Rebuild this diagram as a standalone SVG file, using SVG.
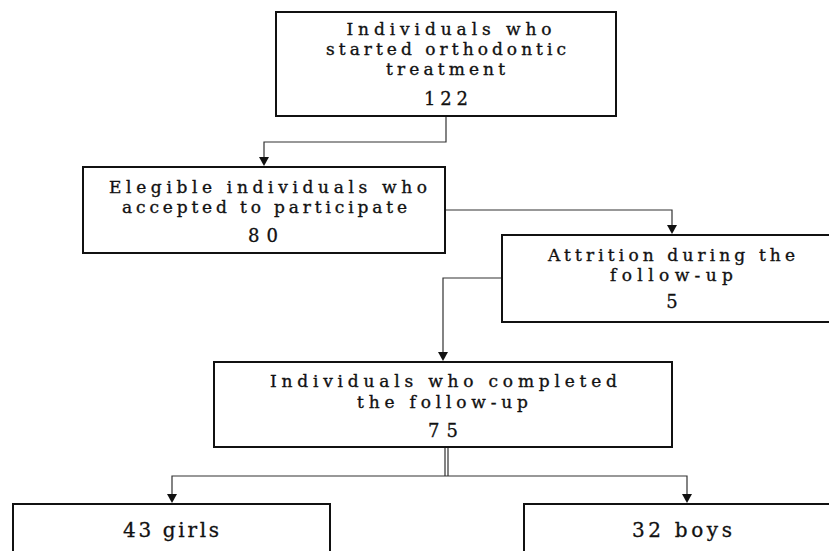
<svg xmlns="http://www.w3.org/2000/svg" width="829" height="551" viewBox="0 0 829 551">
<style>
.box{fill:#fff;stroke:#111;stroke-width:2}
.t{font-family:"DejaVu Serif",serif;font-size:17px;fill:#111;stroke:#111;stroke-width:0.35;text-anchor:middle}
.n{font-family:"DejaVu Serif",serif;font-size:18px;fill:#111;stroke:#111;stroke-width:0.3;text-anchor:middle}
.b{font-family:"DejaVu Serif",serif;font-size:20px;fill:#111;stroke:#111;stroke-width:0.3;text-anchor:middle}
.c{fill:none;stroke:#333;stroke-width:1.2}
</style>
<rect width="829" height="551" fill="#fff"/>
<g id="connectors">
<path class="c" d="M446,117 V142 H264 V158"/>
<polygon points="259,157 269,157 264,166" fill="#111"/>
<path class="c" d="M446,210 H672 V226"/>
<polygon points="667,225 677,225 672,234" fill="#111"/>
<path class="c" d="M502,278 H443 V353"/>
<polygon points="438,352 448,352 443,361" fill="#111"/>
<path class="c" d="M445,448 V476 M448,448 V476"/>
<path class="c" d="M172,495 V476 H687 V495"/>
<polygon points="167,494 177,494 172,503" fill="#111"/>
<polygon points="682,494 692,494 687,503" fill="#111"/>
</g>
<g id="n1">
<rect class="box" x="276" y="12" width="340" height="104"/>
<text class="t" x="449" y="35" textLength="205" lengthAdjust="spacing">Individuals who</text>
<text class="t" x="446" y="55" textLength="240" lengthAdjust="spacing">started orthodontic</text>
<text class="t" x="445.5" y="75" textLength="119" lengthAdjust="spacing">treatment</text>
<text class="n" x="446" y="105" textLength="44" lengthAdjust="spacing">122</text>
</g>
<g id="n2">
<rect class="box" x="83" y="167" width="362" height="86"/>
<text class="t" x="268" y="193" textLength="318" lengthAdjust="spacing">Elegible individuals who</text>
<text class="t" x="264.5" y="213" textLength="285" lengthAdjust="spacing">accepted to participate</text>
<text class="n" x="263" y="242" textLength="30" lengthAdjust="spacing">80</text>
</g>
<g id="n3">
<rect class="box" x="502" y="235" width="340" height="87"/>
<text class="t" x="671.5" y="261" textLength="247" lengthAdjust="spacing">Attrition during the</text>
<text class="t" x="671.5" y="281" textLength="123" lengthAdjust="spacing">follow-up</text>
<text class="n" x="672" y="308">5</text>
</g>
<g id="n4">
<rect class="box" x="214" y="362" width="458" height="85"/>
<text class="t" x="443.5" y="387" textLength="347" lengthAdjust="spacing">Individuals who completed</text>
<text class="t" x="442.5" y="408" textLength="171" lengthAdjust="spacing">the follow-up</text>
<text class="n" x="443" y="437" textLength="30" lengthAdjust="spacing">75</text>
</g>
<g id="n5">
<rect class="box" x="13" y="504" width="317" height="60"/>
<text class="b" x="171" y="537" textLength="96" lengthAdjust="spacing">43 girls</text>
</g>
<g id="n6">
<rect class="box" x="524" y="504" width="320" height="60"/>
<text class="b" x="682" y="537" textLength="100" lengthAdjust="spacing">32 boys</text>
</g>
</svg>
